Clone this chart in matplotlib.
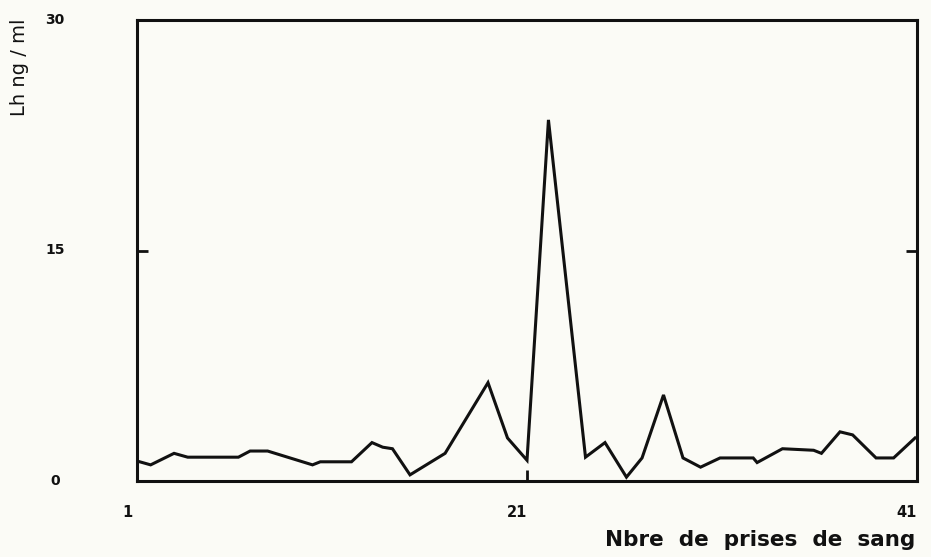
#-*- coding: utf-8 -*-
# LH (ng/ml) selon le nombre de prises de sang
import matplotlib
matplotlib.use('Agg')
import matplotlib.pyplot as plt
import matplotlib.transforms as mtransforms

# valeurs
prises = [1, 1.7, 2.9, 3.6, 6.2, 6.8, 7.7, 10.0, 10.4, 12.0, 13.05, 13.6, 14.1, 15.0,
          16.8, 19.0, 20.0, 21.0, 22.1, 24.0, 25.0, 26.1, 26.9, 28.0, 29.0, 29.9,
          30.9, 32.6, 32.8, 34.1, 35.7, 36.1, 37.05, 37.7, 38.9, 39.8, 40.9]
lh = [1.3, 1.05, 1.8, 1.55, 1.55, 1.95, 1.95, 1.05, 1.25, 1.25, 2.5, 2.2, 2.1, 0.4,
      1.8, 6.4, 2.8, 1.35, 23.5, 1.55, 2.5, 0.25, 1.5, 5.6, 1.5, 0.9,
      1.5, 1.5, 1.2, 2.1, 2.0, 1.8, 3.2, 3.0, 1.5, 1.5, 2.8]

xticks = [1, 21, 41]
xtick_labels = ['1', '21', '41']
yticks = [0, 15, 30]
ytick_labels = ['0', '15', '30']

bg = '#fbfbf6'
ink = '#111111'

fig = plt.figure(figsize=(9.31, 5.57), dpi=100, facecolor=bg)
ax = fig.add_axes([137/931, 1-481/557, 780/931, 461/557])
ax.set_facecolor(bg)

ax.plot(prises, lh, color=ink, linewidth=2.2, solid_joinstyle='miter')

ax.set_xlim(1, 41)
ax.set_ylim(0, 30)
for s in ax.spines.values():
  s.set_linewidth(2.2)
  s.set_color(ink)

ax.set_xticks(xticks)
ax.set_yticks(yticks)
ax.set_xticklabels([])
ax.set_yticklabels([])
ax.tick_params(direction='in', length=8, width=2, color=ink, right=True)

# etiquettes des graduations
for v, t in zip(yticks, ytick_labels):
  ax.text(-0.105, v, t, transform=ax.get_yaxis_transform(), ha='center',
          va='center', fontsize=10, fontweight='bold', color=ink)
for v, t in zip(xticks, xtick_labels):
  off = mtransforms.ScaledTranslation(-10/100, 0, fig.dpi_scale_trans)
  ax.text(v, -0.068, t, transform=ax.get_xaxis_transform() + off, ha='center',
          va='center', fontsize=10.5, fontweight='bold', color=ink)

fig.text(20/931, 1-18/557, 'Lh ng / ml', rotation=90, ha='center', va='top',
         fontsize=14, color=ink)
fig.text(915/931, 1-540/557, 'Nbre  de  prises  de  sang', ha='right', va='center',
         fontsize=15.5, fontweight='bold', color=ink)

fig.savefig('out.png', dpi=100, facecolor=bg)
